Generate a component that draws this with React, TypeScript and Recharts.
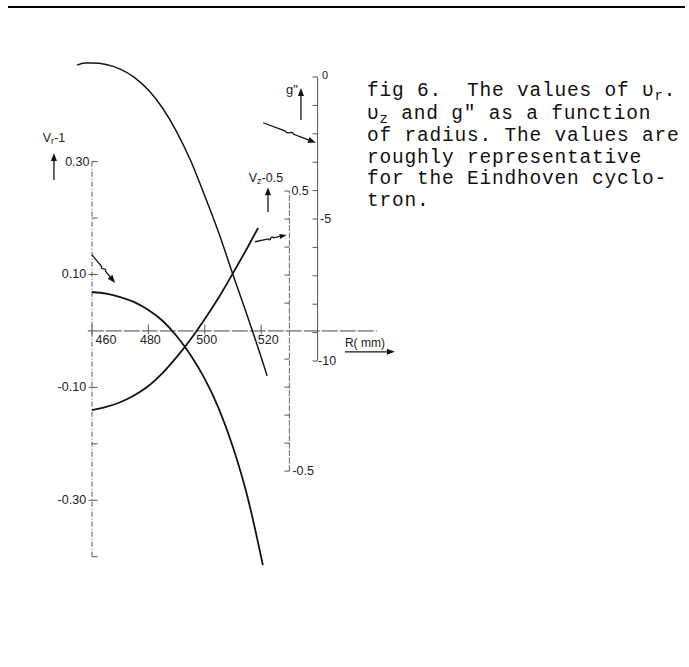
import React from 'react';
import { ComposedChart, Line, XAxis, YAxis, ReferenceLine } from 'recharts';

// Radius samples (mm) and curve values
const rVr = [460, 465, 470, 475, 480, 485, 490, 495, 500, 505, 510, 515, 520.6];
const vrMinusOne = [0.069, 0.066, 0.06, 0.051, 0.037, 0.018, -0.009, -0.043, -0.085, -0.138, -0.206, -0.291, -0.415];

const rVz = [460, 465, 470, 475, 480, 485, 490, 495, 500, 505, 510, 515, 518.9];
const vzMinusHalf = [-0.282, -0.271, -0.254, -0.229, -0.196, -0.15, -0.093, -0.029, 0.043, 0.121, 0.207, 0.296, 0.368];

const rG = [454.7, 457.5, 460, 465, 470, 475, 480, 485, 490, 495, 500, 505, 510, 515, 520, 522.1];
const gDoublePrime = [0.42, 0.49, 0.49, 0.44, 0.28, -0.01, -0.46, -1.09, -1.92, -2.95, -4.19, -5.5, -6.96, -8.39, -9.87, -10.52];

// Axis ticks
const rTicks = [460, 480, 500, 520];
const rTickLabels = ['460', '480', '500', '520'];
const vrTicks = [0.3, 0.2, 0.1, -0.1, -0.2, -0.3, -0.4];
const vrTickLabels: Record<string, string> = { '0.3': '0.30', '0.1': '0.10', '-0.1': '-0.10', '-0.3': '-0.30' };
const vzTicks = [0.5, 0.4, 0.3, 0.2, 0.1, -0.1, -0.2, -0.3, -0.4, -0.5];
const vzTickLabels: Record<string, string> = { '0.5': '0.5', '-0.5': '-0.5' };
const gTicks = [0, -1, -2, -3, -4, -5, -6, -7, -8, -9, -10];
const gTickLabels: Record<string, string> = { '0': '0', '-5': '-5', '-10': '-10' };

// Where each vertical scale stands on the radius axis
const R_VR_AXIS = 460;
const R_VZ_AXIS = 530;
const R_G_AXIS = 540;

const vrData = rVr.map((r, i) => ({ r, v: vrMinusOne[i] }));
const vzData = rVz.map((r, i) => ({ r, v: vzMinusHalf[i] }));
const gData = rG.map((r, i) => ({ r, v: gDoublePrime[i] }));

const INK = '#141414';
const AXIS = '#555';
const LABEL_FONT = '"Liberation Sans Narrow", "Arial Narrow", "Liberation Sans", sans-serif';

const arrowShape = (wavy: boolean, head = 7) => (p: any) => {
  const { x1, y1, x2, y2 } = p;
  const dx = x2 - x1;
  const dy = y2 - y1;
  const len = Math.hypot(dx, dy) || 1;
  const ux = dx / len;
  const uy = dy / len;
  const nx = -uy;
  const ny = ux;
  const bx = x2 - ux * head;
  const by = y2 - uy * head;
  let d = `M${x1},${y1}`;
  if (wavy) {
    const ax = x1 + dx * 0.42;
    const ay = y1 + dy * 0.42;
    const cx = x1 + dx * 0.58;
    const cy = y1 + dy * 0.58;
    const amp = 4;
    d += ` L${ax},${ay} C${ax + (cx - ax) / 3 + nx * amp},${ay + (cy - ay) / 3 + ny * amp} ${ax + (2 * (cx - ax)) / 3 - nx * amp},${ay + (2 * (cy - ay)) / 3 - ny * amp} ${cx},${cy}`;
  }
  d += ` L${bx},${by}`;
  const w = head * 0.38;
  const tri = `M${x2},${y2} L${bx + nx * w},${by + ny * w} L${bx - nx * w},${by - ny * w} Z`;
  return (
    <g>
      <path d={d} fill="none" stroke={INK} strokeWidth={1.3} />
      <path d={tri} fill={INK} />
    </g>
  );
};

const txt = (x: number, y: number, content: React.ReactNode, anchor: 'start' | 'middle' | 'end' = 'start', size = 12.5) => (
  <text x={x} y={y} textAnchor={anchor} dominantBaseline="central" fontFamily={LABEL_FONT} fontSize={size} fill="#222">
    {content}
  </text>
);

const vb = (p: any) => p.viewBox || { x: 0, y: 0, width: 0, height: 0 };

export default function App() {
  const vrAxis = [
    <ReferenceLine key="vr-axis" yAxisId="vr" ifOverflow="visible"
      segment={[{ x: R_VR_AXIS, y: -0.4 }, { x: R_VR_AXIS, y: 0.3 }]}
      stroke={AXIS} strokeWidth={1} strokeDasharray="5 2 1 2" />,
    ...vrTicks.map((v) => {
      const lab = vrTickLabels[String(v)];
      const from = lab && v !== 0.3 ? R_VR_AXIS - 1.2 : R_VR_AXIS;
      return (
        <ReferenceLine key={`vr-t${v}`} yAxisId="vr" ifOverflow="visible"
          segment={[{ x: from, y: v }, { x: R_VR_AXIS + 2, y: v }]}
          stroke={AXIS} strokeWidth={1}
          label={lab ? (p: any) => { const b = vb(p); return txt(b.x - 2.5, b.y, lab, 'end'); } : undefined} />
      );
    }),
  ];

  const rAxis = [
    <ReferenceLine key="r-axis" yAxisId="vr" ifOverflow="visible"
      segment={[{ x: 458.5, y: 0 }, { x: 561, y: 0 }]}
      stroke="#444" strokeWidth={1} strokeDasharray="16 2" />,
    ...rTicks.map((r, i) => {
      const shift = r === 460 ? 14 : r === 520 ? 7 : 2;
      return (
        <ReferenceLine key={`r-t${r}`} yAxisId="vr" ifOverflow="visible"
          segment={[{ x: r, y: -0.006 }, { x: r, y: 0.011 }]}
          stroke={AXIS} strokeWidth={1}
          label={(p: any) => { const b = vb(p); return txt(b.x + shift, b.y + b.height + 6, rTickLabels[i], 'middle'); }} />
      );
    }),
    <ReferenceLine key="r-arrow" yAxisId="vr" ifOverflow="visible"
      segment={[{ x: 549.7, y: -0.037 }, { x: 567.4, y: -0.037 }]}
      shape={arrowShape(false, 8)}
      label={(p: any) => { const b = vb(p); return txt(b.x, b.y - 9, 'R( mm)', 'start', 12); }} />,
  ];

  const vzAxis = [
    <ReferenceLine key="vz-axis" yAxisId="vz" ifOverflow="visible"
      segment={[{ x: R_VZ_AXIS, y: -0.5 }, { x: R_VZ_AXIS, y: 0.5 }]}
      stroke="#666" strokeWidth={1} strokeDasharray="6 1.5" />,
    ...vzTicks.map((v) => {
      const lab = vzTickLabels[String(v)];
      return (
        <ReferenceLine key={`vz-t${v}`} yAxisId="vz" ifOverflow="visible"
          segment={[{ x: R_VZ_AXIS - 1.8, y: v }, { x: R_VZ_AXIS, y: v }]}
          stroke={AXIS} strokeWidth={1}
          label={lab ? (p: any) => { const b = vb(p); return txt(b.x + b.width + (v > 0 ? 2 : 3), b.y, lab, 'start'); } : undefined} />
      );
    }),
    <ReferenceLine key="vz-arrow" yAxisId="vz" ifOverflow="visible"
      segment={[{ x: 522.4, y: 0.425 }, { x: 522.4, y: 0.514 }]}
      shape={arrowShape(false, 8)}
      label={(p: any) => {
        const b = vb(p);
        return txt(b.x - 2, b.y - 9, <>V<tspan fontSize={9} dy={3}>z</tspan><tspan dy={-3}>-0.5</tspan></>, 'middle');
      }} />,
  ];

  const gAxis = [
    <ReferenceLine key="g-axis" yAxisId="g" ifOverflow="visible"
      segment={[{ x: R_G_AXIS, y: -10 }, { x: R_G_AXIS, y: 0 }]}
      stroke={AXIS} strokeWidth={1} />,
    ...gTicks.map((v) => {
      const lab = gTickLabels[String(v)];
      const gap = v === 0 ? 4.5 : v === -5 ? 2.5 : 0.5;
      const dy = v === 0 ? -2 : 0;
      return (
        <ReferenceLine key={`g-t${v}`} yAxisId="g" ifOverflow="visible"
          segment={[{ x: R_G_AXIS - 1.8, y: v }, { x: R_G_AXIS, y: v }]}
          stroke={AXIS} strokeWidth={1}
          label={lab ? (p: any) => { const b = vb(p); return txt(b.x + b.width + gap, b.y + dy, lab, 'start', v === 0 ? 11 : 12.5); } : undefined} />
      );
    }),
    <ReferenceLine key="g-arrow" yAxisId="g" ifOverflow="visible"
      segment={[{ x: 534.1, y: -1.514 }, { x: 534.1, y: -0.387 }]}
      shape={arrowShape(false, 8)}
      label={(p: any) => { const b = vb(p); return txt(b.x - 3, b.y + 1, 'g"', 'end', 13); }} />,
  ];

  const annotations = [
    <ReferenceLine key="vr-arrow" yAxisId="vr" ifOverflow="visible"
      segment={[{ x: 446.5, y: 0.2675 }, { x: 446.5, y: 0.3154 }]}
      shape={arrowShape(false, 8)}
      label={(p: any) => {
        const b = vb(p);
        return txt(b.x, b.y - 15, <>V<tspan fontSize={9} dy={3}>r</tspan><tspan dy={-3}>-1</tspan></>, 'middle');
      }} />,
    <ReferenceLine key="vr-pointer" yAxisId="vr" ifOverflow="visible"
      segment={[{ x: 460, y: 0.1347 }, { x: 468.2, y: 0.085 }]}
      shape={arrowShape(true, 8)} />,
    <ReferenceLine key="vz-pointer" yAxisId="vz" ifOverflow="visible"
      segment={[{ x: 517.8, y: 0.319 }, { x: 529.0, y: 0.343 }]}
      shape={arrowShape(true, 7)} />,
    <ReferenceLine key="g-pointer" yAxisId="g" ifOverflow="visible"
      segment={[{ x: 520.7, y: -1.61 }, { x: 539.4, y: -2.31 }]}
      shape={arrowShape(true, 8)} />,
  ];

  const sub = (s: string) => (
    <span style={{ position: 'relative', top: 4, fontSize: 14 }}>{s}</span>
  );

  return (
    <div style={{ position: 'absolute', left: 0, top: 0, width: 689, height: 667, background: '#fff', overflow: 'hidden' }}>
      <div style={{ position: 'absolute', left: 8, top: 6, width: 677, height: 2, background: '#000' }} />
      <ComposedChart width={689} height={667} margin={{ top: 60, right: 286.8, bottom: 99, left: 49.7 }}>
        <XAxis dataKey="r" type="number" domain={[445, 570]} allowDataOverflow hide />
        <YAxis yAxisId="vr" type="number" domain={[-0.42, 0.48]} allowDataOverflow hide />
        <YAxis yAxisId="vz" type="number" domain={[-0.846, 0.968]} allowDataOverflow hide />
        <YAxis yAxisId="g" type="number" domain={[-17.29, 0.6]} allowDataOverflow hide />
        {vrAxis}
        {rAxis}
        {vzAxis}
        {gAxis}
        {annotations}
        <Line data={gData} dataKey="v" yAxisId="g" type="monotone" stroke={INK} strokeWidth={1.5} dot={false} isAnimationActive={false} />
        <Line data={vrData} dataKey="v" yAxisId="vr" type="monotone" stroke={INK} strokeWidth={1.8} dot={false} isAnimationActive={false} />
        <Line data={vzData} dataKey="v" yAxisId="vz" type="monotone" stroke={INK} strokeWidth={1.8} dot={false} isAnimationActive={false} />
      </ComposedChart>
      <div style={{
        position: 'absolute', left: 367, top: 81, fontFamily: '"Liberation Mono", "Courier New", monospace',
        fontSize: 19.5, letterSpacing: 0.8, lineHeight: '21.5px', color: '#111', whiteSpace: 'pre',
      }}>
        <div>fig 6.  The values of υ{sub('r')}.</div>
        <div>υ{sub('z')} and g" as a function</div>
        <div>of radius. The values are</div>
        <div>roughly representative</div>
        <div>for the Eindhoven cyclo-</div>
        <div>tron.</div>
      </div>
    </div>
  );
}
